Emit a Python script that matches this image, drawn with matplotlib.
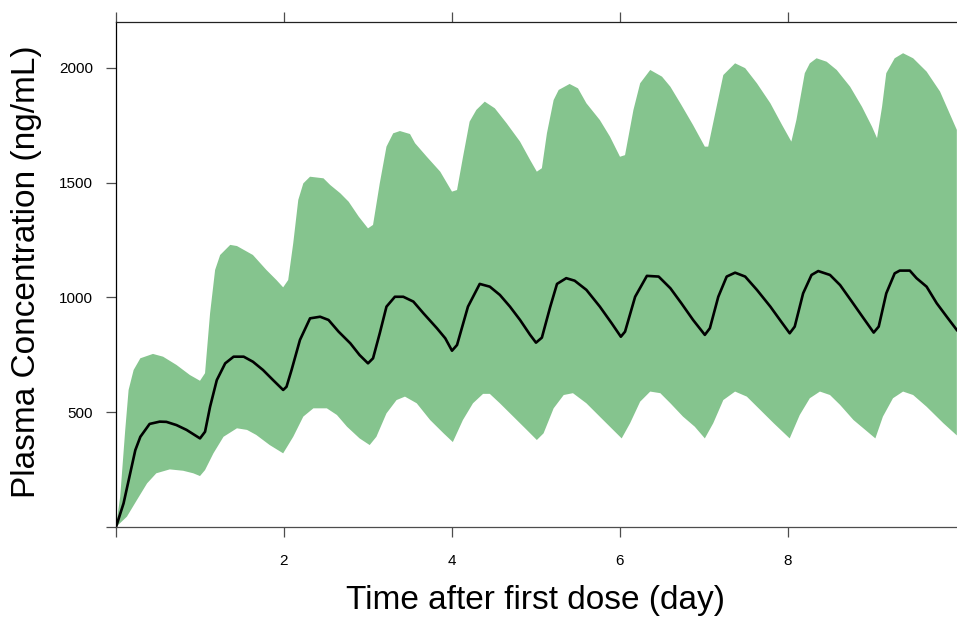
import numpy as np
import matplotlib
matplotlib.use("Agg")
import matplotlib.pyplot as plt

plt.rcParams['font.family'] = ['Liberation Sans', 'DejaVu Sans']

# Median concentration (ng/mL) vs time (day)
med_t = [0.00, 0.09, 0.23, 0.29, 0.40, 0.52, 0.60, 0.72, 0.84, 1.00, 1.06, 1.12, 1.20, 1.30, 1.40,
         1.52, 1.63, 1.75, 1.87, 1.99, 2.03, 2.09, 2.19, 2.31, 2.43, 2.53, 2.65, 2.79, 2.90, 3.00,
         3.06, 3.14, 3.22, 3.32, 3.42, 3.54, 3.66, 3.82, 3.92, 4.00, 4.06, 4.19, 4.33, 4.45, 4.57,
         4.69, 4.81, 4.93, 5.00, 5.07, 5.17, 5.25, 5.36, 5.46, 5.60, 5.76, 5.90, 6.01, 6.06, 6.18,
         6.32, 6.46, 6.60, 6.73, 6.87, 7.01, 7.07, 7.17, 7.27, 7.37, 7.49, 7.63, 7.79, 7.92, 8.02,
         8.08, 8.18, 8.28, 8.36, 8.50, 8.62, 8.76, 8.90, 9.02, 9.08, 9.17, 9.27, 9.33, 9.45, 9.53,
         9.65, 9.77, 9.89, 10.01]
med_v = [0, 103, 335, 393, 449, 459, 458, 444, 423, 386, 415, 524, 640, 713, 742,
         742, 720, 684, 640, 597, 611, 684, 815, 909, 916, 902, 851, 800, 749, 713,
         735, 844, 960, 1003, 1003, 982, 931, 866, 822, 768, 793, 960, 1059, 1047, 1011,
         960, 902, 837, 803, 825, 960, 1059, 1084, 1073, 1033, 960, 888, 829, 851, 1003,
         1094, 1091, 1040, 975, 902, 837, 866, 1003, 1091, 1108, 1091, 1033, 960, 894, 844,
         873, 1018, 1098, 1115, 1098, 1054, 982, 909, 847, 873, 1018, 1105, 1117, 1117, 1084,
         1047, 975, 916, 858]

# Upper (95th percentile) bound
up_t = [0.00, 0.05, 0.08, 0.11, 0.15, 0.21, 0.29, 0.44, 0.56, 0.72, 0.88, 1.00, 1.06, 1.12, 1.18,
        1.24, 1.36, 1.44, 1.63, 1.79, 1.91, 1.99, 2.05, 2.11, 2.17, 2.23, 2.31, 2.47, 2.55, 2.67,
        2.77, 2.89, 3.00, 3.06, 3.14, 3.22, 3.30, 3.38, 3.50, 3.56, 3.70, 3.86, 4.00, 4.06, 4.13,
        4.21, 4.29, 4.39, 4.51, 4.65, 4.81, 4.93, 5.01, 5.07, 5.13, 5.21, 5.27, 5.40, 5.50, 5.60,
        5.76, 5.88, 6.00, 6.06, 6.16, 6.24, 6.36, 6.50, 6.60, 6.73, 6.87, 7.01, 7.05, 7.15, 7.23,
        7.37, 7.49, 7.63, 7.79, 7.93, 8.04, 8.10, 8.20, 8.26, 8.34, 8.46, 8.58, 8.74, 8.88, 9.00,
        9.06, 9.12, 9.17, 9.27, 9.37, 9.49, 9.65, 9.81, 10.01]
up_v = [0, 132, 277, 423, 597, 684, 735, 754, 742, 706, 662, 637, 670, 931, 1120,
        1185, 1229, 1224, 1185, 1120, 1076, 1044, 1076, 1236, 1425, 1497, 1526, 1519, 1490, 1454,
        1417, 1352, 1301, 1316, 1497, 1657, 1715, 1725, 1712, 1672, 1613, 1548, 1461, 1468, 1610,
        1766, 1817, 1853, 1824, 1759, 1679, 1599, 1548, 1563, 1715, 1860, 1904, 1930, 1911, 1846,
        1773, 1701, 1613, 1620, 1817, 1933, 1991, 1962, 1918, 1839, 1751, 1657, 1657, 1831, 1969,
        2020, 1999, 1933, 1846, 1751, 1679, 1773, 1977, 2020, 2042, 2027, 1991, 1918, 1831, 1744,
        1694, 1831, 1977, 2042, 2064, 2042, 1984, 1897, 1730]

# Lower (5th percentile) bound
lo_t = [0.00, 0.13, 0.25, 0.37, 0.48, 0.64, 0.80, 0.92, 1.00, 1.06, 1.16, 1.28, 1.44, 1.56, 1.67,
        1.83, 1.99, 2.11, 2.23, 2.35, 2.51, 2.63, 2.75, 2.90, 3.02, 3.10, 3.22, 3.34, 3.44, 3.58,
        3.74, 3.90, 4.01, 4.13, 4.25, 4.37, 4.45, 4.57, 4.73, 4.89, 5.01, 5.09, 5.21, 5.33, 5.44,
        5.60, 5.80, 6.02, 6.12, 6.24, 6.36, 6.48, 6.60, 6.75, 6.89, 7.01, 7.11, 7.23, 7.37, 7.51,
        7.67, 7.83, 8.02, 8.14, 8.26, 8.38, 8.50, 8.62, 8.78, 8.92, 9.04, 9.13, 9.25, 9.37, 9.49,
        9.65, 9.85, 10.01]
lo_v = [0, 45, 118, 190, 234, 251, 245, 234, 222, 248, 321, 393, 430, 423, 401,
        357, 321, 393, 481, 517, 517, 488, 437, 386, 357, 393, 495, 553, 568, 539,
        466, 408, 370, 466, 539, 580, 580, 539, 481, 423, 379, 408, 517, 575, 583,
        539, 466, 386, 452, 546, 590, 583, 539, 481, 437, 386, 452, 553, 590, 568,
        510, 452, 386, 488, 561, 590, 575, 532, 466, 423, 386, 481, 561, 590, 575,
        524, 452, 399]

xticks = [0, 2, 4, 6, 8]
xtick_labels = ['', '2', '4', '6', '8']
yticks = [0, 500, 1000, 1500, 2000]
ytick_labels = ['', '500', '1000', '1500', '2000']

W, H = 957, 618
fig = plt.figure(figsize=(W / 100, H / 100), dpi=100)
ax = fig.add_axes([116 / W, 1 - 527 / H, (957 - 116) / W, (527 - 22) / H])

poly_x = np.r_[up_t, lo_t[::-1]]
poly_y = np.r_[up_v, lo_v[::-1]]
ax.fill(poly_x, poly_y, color='#85C48E', lw=0, zorder=1)
ax.plot(med_t, med_v, color='black', lw=1.9, zorder=2, solid_joinstyle='round')

ax.set_xlim(0, (957 - 116) / 84)
ax.set_ylim(0, 2200)
ax.set_xticks(xticks)
ax.set_xticklabels(xtick_labels)
ax.set_yticks(yticks)
ax.set_yticklabels(ytick_labels)

tick_col = '#4d4d4d'
ax.tick_params(axis='x', direction='out', length=7.5, width=0.9, color=tick_col,
               labelsize=11, pad=12, top=True, labeltop=False)
ax.tick_params(axis='y', direction='out', length=7.5, width=0.9, color=tick_col,
               labelsize=11, pad=9, right=False)
ax.spines['right'].set_visible(False)
ax.spines['left'].set_color('black')
ax.spines['top'].set_color('#222222')
ax.spines['bottom'].set_color(tick_col)
for s in ax.spines.values():
    s.set_linewidth(0.9)

fig.text(535 / W, 1 - 601 / H, 'Time after first dose (day)', ha='center', va='center',
         fontsize=24)
fig.text(27 / W, 1 - 272 / H, 'Plasma Concentration (ng/mL)', ha='center', va='center',
         rotation=90, fontsize=24)

fig.savefig('out.png', dpi=100)
